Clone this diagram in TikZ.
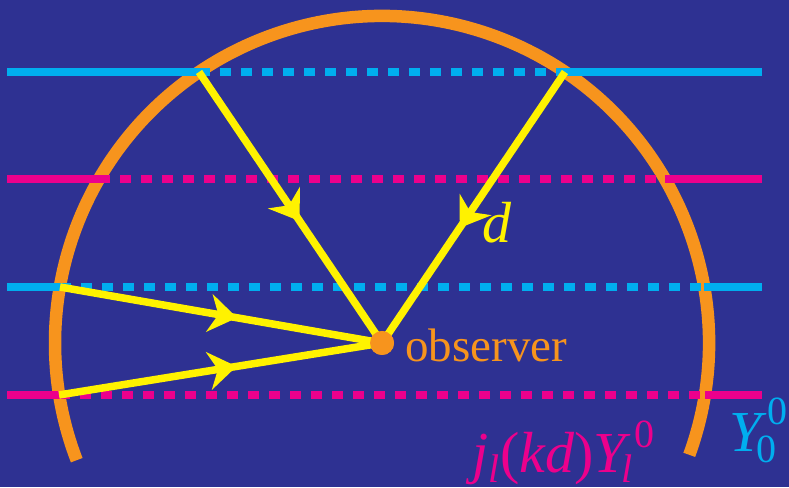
\documentclass[tikz,border=0pt]{standalone}
\usepackage{fontspec}
\setmainfont{Liberation Serif}
\usetikzlibrary{arrows.meta,decorations.markings}
\definecolor{bgblue}{HTML}{2E3192}
\definecolor{ringorange}{HTML}{F7941D}
\definecolor{wavecyan}{HTML}{00AEEF}
\definecolor{wavemagenta}{HTML}{EC008C}
\definecolor{rayyellow}{HTML}{FFF200}
\newcommand{\mainsz}{\fontsize{58}{60}\selectfont}
\newcommand{\smallsz}{\fontsize{40}{40}\selectfont}
\tikzset{
  ring/.style={draw=ringorange, line width=12.5pt},
  wavesolid/.style={line width=8pt},
  wavedotted/.style={wavesolid, dash pattern=on 10.5pt off 10.5pt},
  ray/.style={color=rayyellow, line width=7.5pt, postaction={decorate},
    decoration={markings, mark=at position #1 with
      {\arrow{Stealth[length=28pt,width=38pt,inset=9pt]}}}},
  ray/.default=0.56,
  dot/.style={circle, fill=ringorange, minimum size=24pt, inner sep=0pt},
  label/.style={inner sep=0pt, anchor=base west}
}

\begin{document}
\begin{tikzpicture}[x=1pt, y=1pt]
  \useasboundingbox (0,0) rectangle (789,487);
  \fill[bgblue] (0,0) rectangle (789,487);

  \coordinate (obs) at (382,144);
  \draw[ring] (obs) ++(-20:327) arc[start angle=-20, end angle=201, radius=327];

  % plane-wave levels: height / half chord / colour / name
  \foreach \y/\h/\col/\n in {415/183/wavecyan/a, 308/283/wavemagenta/b,
                              200/322/wavecyan/c, 92/323/wavemagenta/d} {
    \coordinate (l\n) at (7,\y);
    \coordinate (r\n) at (762,\y);
    \coordinate (il\n) at (382-\h,\y);
    \coordinate (ir\n) at (382+\h,\y);
    \draw[wavesolid, \col] (l\n) -- (il\n);
    \draw[wavedotted, \col] (il\n) -- (ir\n);
    \draw[wavesolid, \col] (ir\n) -- (r\n);
  }

  \node[dot] (observer) at (obs) {};
  \draw[ray=0.55] (ila) -- (observer.center);
  \draw[ray=0.575] (ira) -- (observer.center);
  \draw[ray=0.55] (ilc) -- (observer.center);
  \draw[ray=0.55] (ild) -- (observer.center);
  \node[dot] at (obs) {};

  \node[label, text=ringorange, font=\fontsize{47}{50}\selectfont] (obslabel)
    at (405,125) {observer};
  \node[label, text=rayyellow, font=\mainsz\itshape] (dlabel) at (482,244) {d};
  \node[label, text=wavemagenta, font=\mainsz] (jlabel) at (472,15)
    {\itshape j\raisebox{-11pt}{\smallsz l}\kern1pt\textup{(}kd\textup{)}Y\kern-5pt\raisebox{-11pt}{\smallsz l}\kern2pt\raisebox{25pt}{\upshape\smallsz 0}};
  \node[label, text=wavecyan, font=\mainsz] (ylabel) at (729,35)
    {\itshape Y\kern-5pt\rlap{\raisebox{-11pt}{\upshape\smallsz 0}}\kern11pt\raisebox{27pt}{\upshape\smallsz 0}};
\end{tikzpicture}
\end{document}
